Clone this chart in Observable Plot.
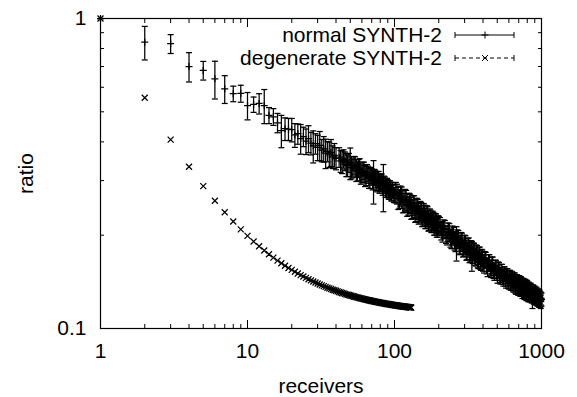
<!DOCTYPE html>
<html><head><meta charset="utf-8">
<script src="https://cdn.jsdelivr.net/npm/d3@7"></script>
<script src="https://cdn.jsdelivr.net/npm/@observablehq/plot@0.6"></script>
<style>
html,body{margin:0;padding:0;background:#fff;}
#chart{position:relative;width:577px;height:397px;}
</style></head><body><div id="chart"></div>
<script>
// ---- data ----
const normalX = [1,2,3,4,5,6,7,8,9,10,11,12,13,14,15,16,17,18,19,20,21,22,23,24,25,26,27,28,29,30,31,32,33,34,35,36,37,38,39,40,
42,44,46,48,50,52,54,56,58,60,62,64,66,68,70,72,74,76,78,80,82,84,86,88,90,92,94,96,98,100,
104,108,112,116,120,124,128,132,136,140,144,148,152,156,160,164,168,172,176,180,184,188,192,196,200,
208,216,224,232,240,248,256,264,272,280,288,296,304,312,320,328,336,344,352,360,368,376,384,392,400,
412,424,436,448,460,472,484,496,508,520,532,544,556,568,580,592,604,616,628,640,652,664,676,688,700,712,724,736,748,760,772,784,796,808,820,832,844,856,868,880,892,904,916,928,940,952,964,976,988,1000];
const normalY = [1.000,.839,.829,.700,.680,.639,.593,.572,.573,.524,.528,.532,.524,.487,.482,.461,.435,.441,.440,.438,.421,.425,.410,.416,.402,.410,.396,.388,.395,.384,.390,.376,.380,.368,.373,.365,.370,.358,.362,.354,
.357,.345,.347,.336,.342,.330,.333,.322,.326,.316,.320,.311,.314,.306,.309,.300,.304,.297,.300,.293,.296,.288,.291,.283,.286,.278,.282,.274,.277,.270,
.272,.262,.265,.255,.259,.249,.253,.243,.248,.238,.243,.234,.238,.229,.233,.225,.230,.221,.226,.218,.222,.214,.219,.211,.215,
.207,.210,.201,.205,.196,.200,.192,.189,.194,.186,.190,.182,.186,.178,.183,.175,.172,.178,.171,.175,.168,.172,.165,.169,.163,
.167,.159,.163,.157,.160,.154,.157,.151,.155,.149,.152,.147,.150,.145,.148,.143,.146,.141,.145,.140,.143,.138,.141,.137,.140,.135,.139,.134,.137,.133,.136,.131,.135,.130,.134,.129,.133,.128,.127,.131,.126,.129,.125,.128,.124,.127,.123,.126,.122,.124];
const normalErr = [0,.104,.058,.076,.047,.089,.061,.033,.036,.053,.030,.040,.066,.029,.030,.033,.052,.037,.036,.038,.037,.032,.045,.030,.038,.041,.033,.046,.030,.036,.042,.031,.036,.040,.028,.034,.037,.030,.033,.029,
.026,.029,.024,.027,.040,.022,.025,.023,.027,.021,.024,.022,.020,.023,.019,.048,.020,.018,.021,.017,.019,.050,.017,.018,.016,.017,.015,.016,.014,.015,
.020,.018,.021,.018,.020,.017,.018,.017,.020,.017,.018,.015,.017,.015,.017,.015,.017,.014,.015,.014,.015,.014,.015,.014,.015,
.014,.014,.013,.014,.013,.014,.013,.024,.013,.013,.013,.011,.013,.011,.013,.011,.019,.011,.011,.011,.011,.011,.010,.011,.010,
.010,.009,.010,.009,.010,.009,.009,.008,.009,.008,.009,.008,.008,.008,.008,.008,.008,.008,.008,.008,.008,.008,.008,.008,.008,.007,.008,.007,.008,.007,.008,.007,.008,.007,.007,.007,.007,.007,.011,.007,.006,.007,.006,.007,.006,.007,.006,.006,.006,.006];
// more receivers of the same "normal" series, in between the ones above
const normalXb = [43,45,47,49,51,53,55,57,59,61,63,65,67,69,71,73,75,77,79,81,83,85,87,89,91,93,95,97,99,
102,106,110,114,118,122,126,130,134,138,142,146,150,154,158,162,166,170,174,178,182,186,190,194,198,
204,212,220,228,236,244,252,260,268,276,284,292,300,308,316,324,332,340,348,356,364,372,380,388,396,
406,418,430,442,454,466,478,490,502,514,526,538,550,562,574,586,598,610,622,634,646,658,670,682,694,706,718,730,742,754,766,778,790,802,814,826,838,850,862,874,886,898,910,922,934,946,958,970,982,994];
const normalYb = [.347,.352,.338,.343,.331,.336,.324,.329,.317,.323,.311,.318,.306,.312,.302,.308,.297,.303,.293,.298,.288,.293,.283,.289,.279,.284,.274,.280,.270,
.275,.264,.268,.257,.261,.251,.255,.245,.250,.240,.245,.235,.240,.231,.236,.227,.232,.223,.228,.219,.224,.215,.220,.212,.217,
.214,.205,.209,.200,.204,.195,.199,.191,.195,.187,.191,.183,.187,.179,.184,.176,.181,.173,.177,.170,.174,.167,.172,.165,.169,
.162,.166,.158,.163,.156,.160,.153,.157,.150,.154,.148,.152,.146,.150,.144,.148,.142,.146,.141,.144,.139,.143,.137,.141,.136,.140,.135,.138,.133,.137,.132,.136,.131,.135,.130,.133,.129,.132,.128,.131,.127,.130,.126,.129,.125,.128,.124,.127,.123,.125];
const normalErrb = [.028,.025,.029,.024,.027,.023,.026,.022,.025,.021,.024,.020,.023,.019,.022,.018,.021,.018,.020,.017,.019,.017,.018,.016,.017,.016,.016,.015,.015,
.021,.022,.020,.021,.020,.021,.018,.020,.018,.020,.018,.018,.017,.018,.017,.017,.017,.017,.015,.015,.015,.015,.015,.015,.014,
.014,.015,.014,.014,.014,.014,.013,.014,.013,.013,.013,.013,.013,.013,.011,.013,.011,.011,.011,.011,.011,.011,.011,.011,.010,
.011,.010,.011,.010,.010,.010,.010,.009,.010,.009,.009,.009,.009,.008,.009,.008,.008,.008,.008,.008,.008,.008,.008,.008,.008,.008,.008,.008,.008,.008,.008,.008,.008,.007,.008,.007,.007,.007,.007,.007,.007,.007,.006,.007,.006,.006,.006,.006,.006,.006];
const degenX = [1,2,3,4,5,6,7,8,9,10,11,12,13,14,15,16,17,18,19,20,21,22,23,24,25,26,27,28,29,30,31,32,33,34,35,36,37,38,39,40,41,42,43,44,45,46,47,48,49,50,51,52,53,54,55,56,57,58,59,60,61,62,63,64,65,66,67,68,69,70,71,72,73,74,75,76,77,78,79,80,81,82,83,84,85,86,87,88,89,90,91,92,93,94,95,96,97,98,99,100,101,102,103,104,105,106,107,108,109,110,111,112,113,114,115,116,117,118,119,120,121,122,123,124,125,126,127,128,129,130];
const degenY = [1.0000,.5550,.4067,.3325,.2880,.2583,.2371,.2213,.2089,.1990,.1909,.1842,.1785,.1736,.1693,.1656,.1624,.1594,.1568,.1545,.1524,.1505,.1487,.1471,.1456,.1442,.1430,.1418,.1407,.1397,.1387,.1378,.1370,.1362,.1354,.1347,.1341,.1334,.1328,.1323,.1317,.1312,.1307,.1302,.1298,.1293,.1289,.1285,.1282,.1278,.1275,.1271,.1268,.1265,.1262,.1259,.1256,.1253,.1251,.1248,.1246,.1244,.1241,.1239,.1237,.1235,.1233,.1231,.1229,.1227,.1225,.1224,.1222,.1220,.1219,.1217,.1216,.1214,.1213,.1211,.1210,.1209,.1207,.1206,.1205,.1203,.1202,.1201,.1200,.1199,.1198,.1197,.1196,.1195,.1194,.1193,.1192,.1191,.1190,.1189,.1188,.1187,.1186,.1186,.1185,.1184,.1183,.1182,.1182,.1181,.1180,.1179,.1179,.1178,.1177,.1177,.1176,.1175,.1175,.1174,.1174,.1173,.1172,.1172,.1171,.1171,.1170,.1170,.1169,.1168];
const xTicks = [1,10,100,1000];
const xMinorTicks = [2,3,4,5,6,7,8,9,20,30,40,50,60,70,80,90,200,300,400,500,600,700,800,900];
const yTicks = [0.1,1];
const yTickLabels = ["0.1","1"];
const yMinorTicks = [0.2,0.3,0.4,0.5,0.6,0.7,0.8,0.9];
const seriesNames = ["normal SYNTH-2","degenerate SYNTH-2"];
const xTitle = "receivers";
const yTitle = "ratio";

// ---- build ----
const toRow = (x, y, e) => ({x, y, lo: y - e, hi: y + e});
const normal = normalX.map((x,i)=>toRow(x, normalY[i], normalErr[i]))
  .concat(normalXb.map((x,i)=>toRow(x, normalYb[i], normalErrb[i])))
  .sort((a,b)=>a.x-b.x);
const degen = degenX.map((x,i)=>({x, y: degenY[i]}));

const cap = {draw(c){c.moveTo(-3,0);c.lineTo(3,0);}};
const plus = {draw(c){c.moveTo(-3.5,0);c.lineTo(3.5,0);c.moveTo(0,-3.5);c.lineTo(0,3.5);}};
const cross = {draw(c){c.moveTo(-3,-3);c.lineTo(3,3);c.moveTo(-3,3);c.lineTo(3,-3);}};

const FONT = "'Liberation Sans', Arial, Helvetica, sans-serif";
const blank = () => "";
const SW = 1.25;
const chart = Plot.plot({
  width: 577, height: 397,
  marginLeft: 100, marginRight: 36, marginTop: 18, marginBottom: 69,
  style: {fontFamily: FONT, fontSize: "21px", color: "#000", background: "#fff", overflow: "visible"},
  x: {type: "log", domain: [1,1000]},
  y: {type: "log", domain: [0.1,1]},
  marks: [
    Plot.axisX({anchor:"bottom", ticks: xMinorTicks, tickSize: -4, tickFormat: blank, label: null}),
    Plot.axisX({anchor:"top", ticks: xMinorTicks, tickSize: -4, tickFormat: blank, label: null}),
    Plot.axisY({anchor:"left", ticks: yMinorTicks, tickSize: -4, tickFormat: blank, label: null}),
    Plot.axisY({anchor:"right", ticks: yMinorTicks, tickSize: -4, tickFormat: blank, label: null}),
    Plot.axisX({anchor:"bottom", ticks: xTicks, tickSize: -8, tickFormat: blank, label: null}),
    Plot.axisX({anchor:"top", ticks: xTicks, tickSize: -8, tickFormat: blank, label: null}),
    Plot.axisY({anchor:"left", ticks: yTicks, tickSize: -8, tickFormat: blank, label: null}),
    Plot.axisY({anchor:"right", ticks: yTicks, tickSize: -8, tickFormat: blank, label: null}),
    Plot.axisX({anchor:"bottom", ticks: xTicks, tickSize: 0, tickPadding: 15, tickFormat: d => String(d),
      label: xTitle, labelAnchor: "center", labelOffset: 64, labelArrow: "none"}),
    Plot.axisY({anchor:"left", ticks: yTicks, tickSize: 0, tickPadding: 14, tickFormat: d => yTickLabels[yTicks.indexOf(d)],
      label: yTitle, labelAnchor: "center", labelOffset: 82, labelArrow: "none"}),
    Plot.frame({stroke: "#000", strokeWidth: 1.2}),
    Plot.ruleX(normal, {x: "x", y1: "lo", y2: "hi", stroke: "#000", strokeWidth: SW}),
    Plot.dot(normal, {x: "x", y: "lo", symbol: cap, stroke: "#000", strokeWidth: SW, r: 3}),
    Plot.dot(normal, {x: "x", y: "hi", symbol: cap, stroke: "#000", strokeWidth: SW, r: 3}),
    Plot.dot(normal, {x: "x", y: "y", symbol: plus, stroke: "#000", strokeWidth: SW, r: 3}),
    Plot.dot(degen, {x: "x", y: "y", symbol: cross, stroke: "#000", strokeWidth: SW, r: 3})
  ]
});
document.getElementById("chart").appendChild(chart);

// ---- legend (inside plot, top right) ----
const svg = d3.select(chart);
const lg = svg.append("g").attr("font-family", FONT).attr("font-size", 21).attr("fill", "#000");
const rows = [{name: seriesNames[0], dash: null, marker: "plus"}, {name: seriesNames[1], dash: "4,3", marker: "cross"}];
rows.forEach((r, i) => {
  const cy = 35 + i * 23;
  lg.append("text").attr("x", 442).attr("y", cy).attr("dy", "0.35em").attr("text-anchor", "end").text(r.name);
  const g = lg.append("g").attr("stroke", "#000").attr("stroke-width", 1).attr("fill", "none");
  g.append("line").attr("x1", 455).attr("x2", 514).attr("y1", cy).attr("y2", cy).attr("stroke-dasharray", r.dash);
  g.append("line").attr("x1", 455).attr("x2", 455).attr("y1", cy - 3).attr("y2", cy + 3);
  g.append("line").attr("x1", 514).attr("x2", 514).attr("y1", cy - 3).attr("y2", cy + 3);
  if (r.marker === "plus") {
    g.append("path").attr("d", `M${485-3.5},${cy}h7M485,${cy-3.5}v7`);
  } else {
    g.append("path").attr("d", `M482,${cy-3}l6,6M482,${cy+3}l6,-6`);
  }
});
</script>
</body></html>
